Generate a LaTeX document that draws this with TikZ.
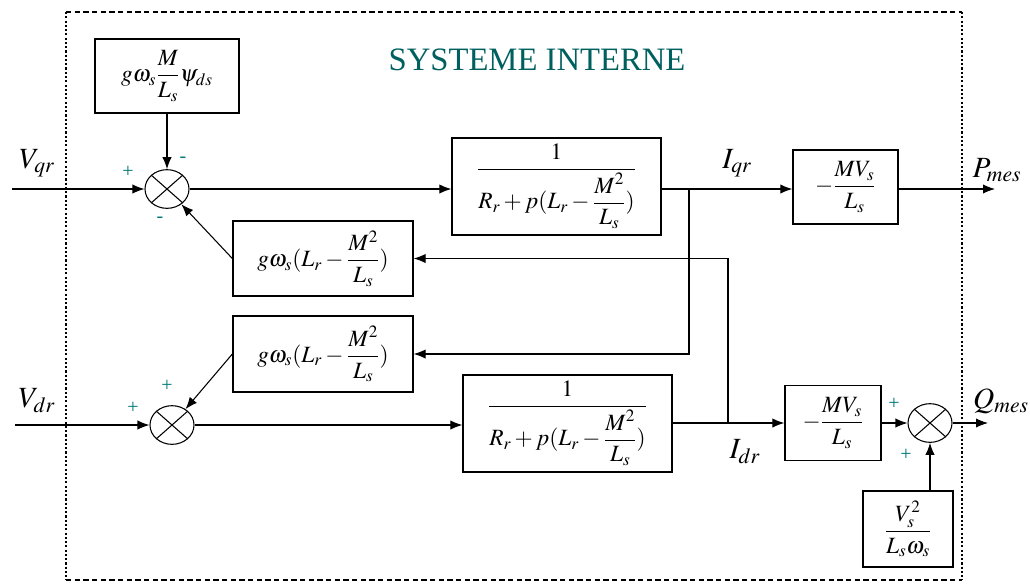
\documentclass[tikz,border=0pt]{standalone}
\usepackage{amsmath}
\usepackage{mathptmx}
\usepackage[no-math]{fontspec}
\setmainfont{Liberation Serif}
\usetikzlibrary{arrows.meta,shapes.geometric}
\definecolor{tealsign}{RGB}{0,120,120}
\definecolor{tealtitle}{RGB}{0,95,95}
\begin{document}
\begin{tikzpicture}[x=0.75pt,y=-0.75pt,
  blk/.style={draw,line width=1pt,inner sep=0pt,font=\fontsize{17.5}{20}\selectfont},
  sumj/.style={draw,ellipse,line width=0.8pt,minimum width=33pt,minimum height=29pt,inner sep=0pt},
  con/.style={line width=0.8pt},
  arr/.style={line width=0.8pt,-{Latex[length=9pt,width=7pt]}},
  sig/.style={text=tealsign,font=\fontsize{15}{15}\selectfont},
  lab/.style={font=\fontsize{22}{23}\selectfont}]
\useasboundingbox (0,0) rectangle (1030,583);
% frame
\draw[line width=0.9pt,dash pattern=on 4pt off 2.5pt] (66,12) -- (962,12);
\draw[line width=0.9pt,dash pattern=on 4pt off 2.5pt] (66,580) -- (962,580);
\draw[line width=1.4pt,dash pattern=on 1.6pt off 1.6pt] (66,12) -- (66,580);
\draw[line width=1.4pt,dash pattern=on 1.6pt off 1.6pt] (962,12) -- (962,580);
\node[text=tealtitle,font=\fontsize{24.5}{26}\selectfont] (title) at (537,60) {SYSTEME INTERNE};
% blocks
\node[blk,minimum width=108pt,minimum height=55.5pt] (A) at (167,76) {$g\omega_s\dfrac{M}{L_s}\psi_{ds}$};
\node[blk,minimum width=156.75pt,minimum height=72.75pt] (B) at (556.5,186.5) {$\dfrac{1}{R_r+p(L_r-\dfrac{M^2}{L_s})}$};
\node[blk,minimum width=78.75pt,minimum height=55.5pt] (C) at (845.5,187) {$-\dfrac{MV_s}{L_s}$};
\node[blk,minimum width=135pt,minimum height=56.25pt] (D) at (323,258.5) {$g\omega_s(L_r-\dfrac{M^2}{L_s})$};
\node[blk,minimum width=135pt,minimum height=57pt] (E) at (323,354) {$g\omega_s(L_r-\dfrac{M^2}{L_s})$};
\node[blk,minimum width=156.75pt,minimum height=72.75pt] (F) at (567.5,423.5) {$\dfrac{1}{R_r+p(L_r-\dfrac{M^2}{L_s})}$};
\node[blk,minimum width=72pt,minimum height=56.25pt] (G) at (833,423) {$-\dfrac{MV_s}{L_s}$};
\node[blk,minimum width=67.5pt,minimum height=57pt] (H) at (908,529) {$\dfrac{V_s^2}{L_s\omega_s}$};
% summing junctions
\node[sumj] (S1) at (167,189) {};
\node[sumj] (S2) at (172,425) {};
\node[sumj] (S3) at (930,423) {};
\foreach \s in {S1,S2,S3}{
  \draw[con] (\s.north east) -- (\s.south west);
  \draw[con] (\s.north west) -- (\s.south east);
}
% coordinates
\coordinate (vqr) at (12,189);
\coordinate (vdr) at (15,425);
\coordinate (pm) at (995,189);
\coordinate (qm) at (988,423);
\coordinate (t1) at (689,189);
\coordinate (t2) at (728,423);
% connectors
\draw[arr] (vqr) -- (S1.west);
\draw[arr] (A.south) -- (S1.north);
\draw[arr] (S1.east) -- (S1.east -| B.west);
\draw[arr] (B.east |- t1) -- (t1 -| C.west);
\draw[arr] (C.east |- pm) -- (pm);
\draw[arr] (t1) |- (E.east);
\draw[arr] (D.west) -- (S1);
\draw[arr] (E.west) -- (S2);
\draw[arr] (vdr) -- (S2.west);
\draw[arr] (S2.east) -- (S2.east -| F.west);
\draw[arr] (F.east |- t2) -- (t2 -| G.west);
\draw[arr] (t2) |- (D.east);
\draw[arr] (G.east |- S3.west) -- (S3.west);
\draw[arr] (S3.east) -- (qm);
\draw[arr] (S3.south |- H.north) -- (S3.south);
% labels
\node[lab] (lvqr) at (37,163) {$V_{qr}$};
\node[lab] (lvdr) at (37,401) {$V_{dr}$};
\node[lab] (liqr) at (737,163) {$I_{qr}$};
\node[lab] (lidr) at (745,452) {$I_{dr}$};
\node[lab] (lpm) at (997,170) {$P_{mes}$};
\node[lab] (lqm) at (1001,401) {$Q_{mes}$};
% signs
\node[sig] (p1) at (128,172) {+};
\node[sig] (m1) at (183,160) {-};
\node[sig] (m2) at (160,220) {-};
\node[sig] (p2) at (133,408) {+};
\node[sig] (p3) at (167,386) {+};
\node[sig] (p4) at (894,404) {+};
\node[sig] (p5) at (906,455) {+};
\end{tikzpicture}
\end{document}
